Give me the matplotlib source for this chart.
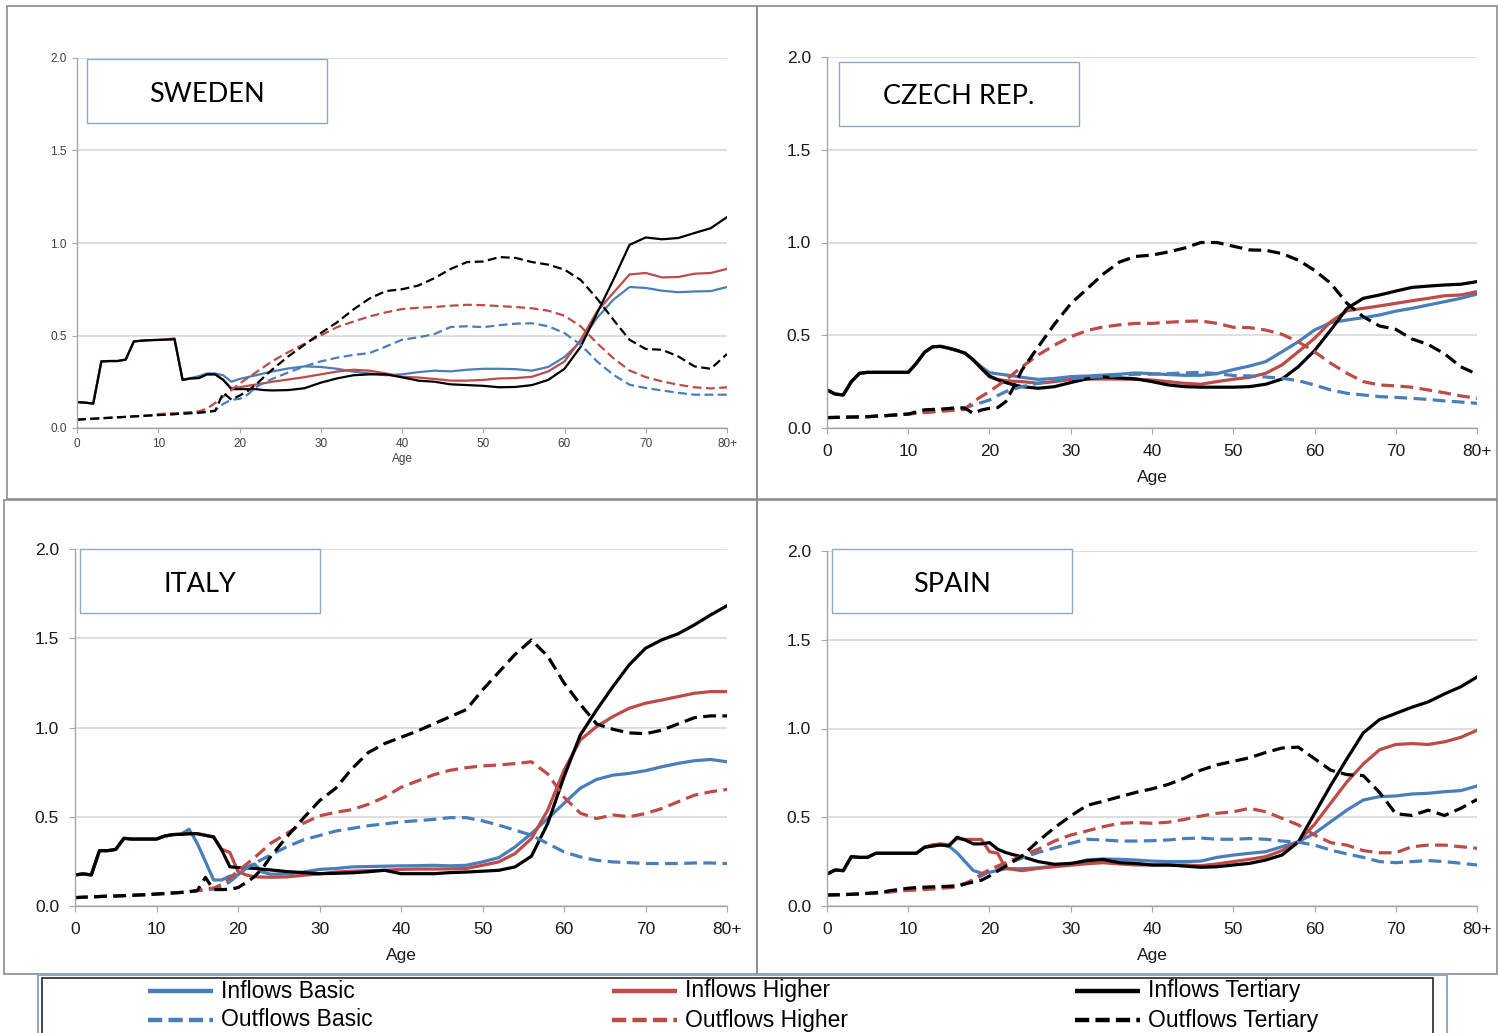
import matplotlib
matplotlib.use("Agg")
import matplotlib.pyplot as plt
from matplotlib.patches import Rectangle
from matplotlib.lines import Line2D

W, H = 1498, 1033

# ages: yearly up to 24, then every two years up to 80+
AGES = list(range(0, 25)) + list(range(26, 81, 2))
XTICKS = [0, 10, 20, 30, 40, 50, 60, 70, 80]
XTICK_LABELS = ["0", "10", "20", "30", "40", "50", "60", "70", "80+"]
YTICKS = [0.0, 0.5, 1.0, 1.5, 2.0]
LEGEND_LABELS = ["Inflows Basic", "Inflows Higher", "Inflows Tertiary",
                 "Outflows Basic", "Outflows Higher", "Outflows Tertiary"]

# ---- Sweden ----
SE_IN_BASIC = [0.14, 0.137, 0.132, 0.36, 0.362, 0.362, 0.37, 0.468, 0.472, 0.475, 0.476, 0.478, 0.48,
               0.26, 0.27, 0.28, 0.295, 0.295, 0.285, 0.25, 0.265, 0.275, 0.285, 0.295, 0.305,
               0.322, 0.333, 0.33, 0.32, 0.305, 0.295, 0.285, 0.29, 0.302, 0.31, 0.306, 0.315, 0.32, 0.32,
               0.318, 0.31, 0.33, 0.384, 0.468, 0.595, 0.693, 0.762, 0.757, 0.742, 0.734, 0.738, 0.74, 0.762]
SE_IN_HIGH = [0.14, 0.137, 0.132, 0.36, 0.362, 0.362, 0.37, 0.468, 0.472, 0.475, 0.476, 0.478, 0.485,
              0.26, 0.268, 0.27, 0.29, 0.29, 0.26, 0.215, 0.22, 0.228, 0.235, 0.242, 0.25,
              0.262, 0.275, 0.29, 0.305, 0.315, 0.31, 0.295, 0.277, 0.273, 0.265, 0.256, 0.256, 0.26, 0.268,
              0.27, 0.277, 0.306, 0.36, 0.477, 0.63, 0.73, 0.83, 0.838, 0.814, 0.816, 0.834, 0.838, 0.86]
SE_IN_TERT = [0.14, 0.137, 0.132, 0.36, 0.362, 0.362, 0.37, 0.468, 0.472, 0.475, 0.476, 0.478, 0.48,
              0.26, 0.268, 0.27, 0.29, 0.29, 0.26, 0.21, 0.21, 0.21, 0.21, 0.205, 0.203,
              0.205, 0.215, 0.245, 0.268, 0.285, 0.29, 0.29, 0.274, 0.256, 0.25, 0.236, 0.232, 0.228, 0.22,
              0.222, 0.232, 0.26, 0.32, 0.44, 0.62, 0.80, 0.99, 1.03, 1.02, 1.027, 1.054, 1.08, 1.14]
SE_OUT_BASIC = [0.045, 0.048, 0.05, 0.053, 0.055, 0.058, 0.06, 0.063, 0.065, 0.068, 0.07, 0.072, 0.075,
                0.078, 0.08, 0.083, 0.087, 0.095, 0.13, 0.153, 0.157, 0.18, 0.22, 0.245, 0.265,
                0.30, 0.333, 0.36, 0.38, 0.395, 0.405, 0.44, 0.477, 0.49, 0.508, 0.546, 0.55, 0.545, 0.556,
                0.564, 0.566, 0.55, 0.513, 0.45, 0.36, 0.288, 0.234, 0.216, 0.203, 0.19, 0.18, 0.18, 0.18]
SE_OUT_HIGH = [0.045, 0.048, 0.05, 0.053, 0.055, 0.058, 0.06, 0.063, 0.065, 0.068, 0.075, 0.078, 0.08,
               0.083, 0.086, 0.09, 0.105, 0.135, 0.17, 0.205, 0.24, 0.27, 0.30, 0.33, 0.36,
               0.41, 0.455, 0.5, 0.545, 0.575, 0.603, 0.625, 0.643, 0.65, 0.654, 0.661, 0.666, 0.664, 0.659,
               0.654, 0.647, 0.634, 0.607, 0.549, 0.459, 0.378, 0.311, 0.275, 0.252, 0.234, 0.22, 0.214, 0.22]
SE_OUT_TERT = [0.045, 0.048, 0.05, 0.053, 0.055, 0.058, 0.06, 0.063, 0.065, 0.068, 0.07, 0.072, 0.075,
               0.078, 0.08, 0.083, 0.087, 0.092, 0.19, 0.153, 0.175, 0.2, 0.234, 0.275, 0.315,
               0.387, 0.45, 0.513, 0.571, 0.64, 0.70, 0.74, 0.75, 0.77, 0.81, 0.86, 0.897, 0.90, 0.924,
               0.919, 0.897, 0.883, 0.856, 0.80, 0.70, 0.586, 0.477, 0.427, 0.423, 0.387, 0.333, 0.32, 0.40]

# ---- Czech Rep. ----
CZ_IN_BASIC = [0.205, 0.183, 0.178, 0.25, 0.295, 0.30, 0.30, 0.30, 0.30, 0.30, 0.30, 0.349, 0.408,
               0.438, 0.44, 0.43, 0.418, 0.403, 0.367, 0.33, 0.298, 0.292, 0.286, 0.28, 0.273,
               0.262, 0.267, 0.277, 0.28, 0.285, 0.29, 0.297, 0.293, 0.288, 0.284, 0.284, 0.293, 0.315, 0.334,
               0.358, 0.411, 0.465, 0.528, 0.568, 0.582, 0.595, 0.609, 0.63, 0.645, 0.663, 0.681, 0.699, 0.722]
CZ_IN_HIGH = [0.205, 0.183, 0.178, 0.25, 0.295, 0.30, 0.30, 0.30, 0.30, 0.30, 0.30, 0.349, 0.408,
              0.438, 0.44, 0.43, 0.418, 0.403, 0.367, 0.32, 0.275, 0.262, 0.255, 0.252, 0.25,
              0.241, 0.25, 0.262, 0.264, 0.264, 0.264, 0.262, 0.259, 0.25, 0.241, 0.236, 0.25, 0.263, 0.273,
              0.295, 0.34, 0.411, 0.483, 0.573, 0.632, 0.645, 0.658, 0.672, 0.686, 0.699, 0.713, 0.717, 0.735]
CZ_IN_TERT = [0.205, 0.183, 0.178, 0.25, 0.295, 0.30, 0.30, 0.30, 0.30, 0.30, 0.30, 0.349, 0.408,
              0.438, 0.44, 0.43, 0.418, 0.403, 0.367, 0.322, 0.28, 0.26, 0.245, 0.232, 0.223,
              0.214, 0.223, 0.245, 0.265, 0.275, 0.27, 0.265, 0.25, 0.232, 0.223, 0.22, 0.22, 0.22, 0.223,
              0.236, 0.264, 0.33, 0.417, 0.528, 0.645, 0.699, 0.717, 0.738, 0.758, 0.765, 0.771, 0.775, 0.789]
CZ_OUT_BASIC = [0.056, 0.057, 0.058, 0.059, 0.06, 0.061, 0.064, 0.066, 0.069, 0.072, 0.075, 0.08, 0.085,
                0.09, 0.095, 0.1, 0.105, 0.11, 0.123, 0.137, 0.151, 0.175, 0.196, 0.21, 0.223,
                0.241, 0.259, 0.267, 0.272, 0.277, 0.283, 0.29, 0.29, 0.293, 0.297, 0.3, 0.293, 0.283, 0.281,
                0.275, 0.268, 0.255, 0.232, 0.205, 0.187, 0.178, 0.169, 0.165, 0.16, 0.154, 0.146, 0.14, 0.133]
CZ_OUT_HIGH = [0.056, 0.057, 0.058, 0.059, 0.06, 0.061, 0.064, 0.066, 0.069, 0.072, 0.075, 0.08, 0.083,
               0.086, 0.09, 0.093, 0.097, 0.1, 0.142, 0.17, 0.196, 0.228, 0.259, 0.295, 0.33,
               0.394, 0.447, 0.492, 0.525, 0.545, 0.556, 0.564, 0.564, 0.57, 0.575, 0.577, 0.564, 0.543, 0.541,
               0.528, 0.505, 0.465, 0.411, 0.349, 0.295, 0.25, 0.232, 0.227, 0.22, 0.205, 0.19, 0.173, 0.16]
CZ_OUT_TERT = [0.056, 0.057, 0.058, 0.059, 0.06, 0.061, 0.064, 0.066, 0.069, 0.072, 0.075, 0.087, 0.098,
               0.10, 0.102, 0.105, 0.11, 0.106, 0.079, 0.097, 0.106, 0.11, 0.142, 0.223, 0.313,
               0.438, 0.56, 0.67, 0.75, 0.83, 0.895, 0.925, 0.932, 0.949, 0.97, 1.0, 1.0, 0.98, 0.96,
               0.958, 0.94, 0.905, 0.85, 0.78, 0.672, 0.60, 0.55, 0.532, 0.48, 0.45, 0.40, 0.33, 0.29]

# ---- Italy ----
IT_IN_BASIC = [0.174, 0.18, 0.174, 0.31, 0.31, 0.317, 0.379, 0.375, 0.375, 0.375, 0.375, 0.392, 0.40,
               0.402, 0.43, 0.351, 0.25, 0.146, 0.146, 0.168, 0.174, 0.215, 0.235, 0.19, 0.178,
               0.18, 0.19, 0.205, 0.21, 0.219, 0.221, 0.223, 0.225, 0.226, 0.228, 0.225, 0.228, 0.247, 0.271,
               0.331, 0.406, 0.49, 0.575, 0.66, 0.709, 0.733, 0.743, 0.758, 0.78, 0.799, 0.814, 0.821, 0.808]
IT_IN_HIGH = [0.174, 0.18, 0.174, 0.31, 0.31, 0.317, 0.379, 0.375, 0.375, 0.375, 0.375, 0.392, 0.40,
              0.402, 0.405, 0.405, 0.396, 0.387, 0.318, 0.30, 0.193, 0.174, 0.164, 0.162, 0.161,
              0.163, 0.172, 0.18, 0.19, 0.195, 0.198, 0.2, 0.205, 0.207, 0.207, 0.208, 0.21, 0.228, 0.247,
              0.294, 0.378, 0.537, 0.761, 0.93, 1.005, 1.061, 1.108, 1.136, 1.154, 1.173, 1.192, 1.201, 1.201]
IT_IN_TERT = [0.174, 0.18, 0.174, 0.31, 0.31, 0.317, 0.379, 0.375, 0.375, 0.375, 0.375, 0.392, 0.40,
              0.402, 0.405, 0.405, 0.396, 0.387, 0.314, 0.22, 0.215, 0.213, 0.211, 0.206, 0.202,
              0.193, 0.187, 0.181, 0.183, 0.186, 0.192, 0.2, 0.181, 0.181, 0.181, 0.187, 0.19, 0.195, 0.2,
              0.219, 0.279, 0.462, 0.724, 0.958, 1.098, 1.229, 1.351, 1.444, 1.491, 1.525, 1.575, 1.631, 1.682]
IT_OUT_BASIC = [0.047, 0.049, 0.051, 0.053, 0.055, 0.056, 0.058, 0.06, 0.062, 0.064, 0.067, 0.07, 0.073,
                0.076, 0.08, 0.086, 0.09, 0.095, 0.108, 0.136, 0.174, 0.211, 0.239, 0.262, 0.286,
                0.332, 0.37, 0.395, 0.42, 0.435, 0.45, 0.46, 0.471, 0.478, 0.485, 0.495, 0.495, 0.477, 0.453,
                0.425, 0.397, 0.35, 0.303, 0.275, 0.256, 0.247, 0.243, 0.238, 0.238, 0.238, 0.241, 0.241, 0.238]
IT_OUT_HIGH = [0.047, 0.049, 0.051, 0.053, 0.055, 0.056, 0.058, 0.06, 0.062, 0.064, 0.067, 0.07, 0.073,
               0.076, 0.08, 0.086, 0.095, 0.1, 0.121, 0.155, 0.196, 0.233, 0.27, 0.31, 0.351,
               0.407, 0.463, 0.505, 0.525, 0.54, 0.57, 0.61, 0.665, 0.70, 0.735, 0.76, 0.775, 0.785, 0.79,
               0.798, 0.808, 0.74, 0.61, 0.52, 0.49, 0.51, 0.50, 0.518, 0.546, 0.584, 0.621, 0.64, 0.653]
IT_OUT_TERT = [0.047, 0.049, 0.051, 0.053, 0.055, 0.056, 0.058, 0.06, 0.062, 0.064, 0.067, 0.07, 0.073,
               0.076, 0.08, 0.086, 0.16, 0.092, 0.092, 0.094, 0.103, 0.131, 0.164, 0.211, 0.276,
               0.388, 0.491, 0.59, 0.66, 0.77, 0.86, 0.91, 0.945, 0.98, 1.02, 1.06, 1.10, 1.21, 1.31,
               1.41, 1.49, 1.40, 1.25, 1.13, 1.02, 0.99, 0.97, 0.965, 0.985, 1.02, 1.055, 1.065, 1.065]

# ---- Spain ----
ES_IN_BASIC = [0.18, 0.203, 0.199, 0.278, 0.274, 0.274, 0.297, 0.297, 0.297, 0.297, 0.297, 0.297, 0.331,
               0.338, 0.344, 0.338, 0.30, 0.25, 0.20, 0.185, 0.19, 0.2, 0.21, 0.21, 0.21,
               0.215, 0.225, 0.235, 0.26, 0.265, 0.263, 0.259, 0.253, 0.25, 0.25, 0.253, 0.274, 0.287, 0.297,
               0.306, 0.334, 0.362, 0.409, 0.475, 0.541, 0.597, 0.616, 0.62, 0.631, 0.635, 0.644, 0.65, 0.676]
ES_IN_HIGH = [0.18, 0.203, 0.199, 0.278, 0.274, 0.274, 0.297, 0.297, 0.297, 0.297, 0.297, 0.297, 0.331,
              0.345, 0.35, 0.345, 0.38, 0.375, 0.375, 0.375, 0.306, 0.297, 0.212, 0.206, 0.199,
              0.212, 0.221, 0.23, 0.238, 0.244, 0.237, 0.231, 0.231, 0.231, 0.231, 0.227, 0.237, 0.25, 0.263,
              0.278, 0.312, 0.362, 0.46, 0.58, 0.70, 0.80, 0.88, 0.91, 0.915, 0.91, 0.925, 0.95, 0.99]
ES_IN_TERT = [0.18, 0.203, 0.199, 0.278, 0.274, 0.274, 0.297, 0.297, 0.297, 0.297, 0.297, 0.297, 0.331,
              0.338, 0.344, 0.338, 0.387, 0.372, 0.35, 0.35, 0.357, 0.32, 0.301, 0.288, 0.278,
              0.25, 0.235, 0.24, 0.255, 0.262, 0.244, 0.24, 0.231, 0.231, 0.225, 0.218, 0.221, 0.231, 0.24,
              0.259, 0.287, 0.36, 0.52, 0.68, 0.83, 0.975, 1.05, 1.085, 1.12, 1.15, 1.195, 1.235, 1.29]
ES_OUT_BASIC = [0.062, 0.063, 0.064, 0.066, 0.068, 0.071, 0.07, 0.075, 0.08, 0.085, 0.09, 0.095, 0.1,
                0.103, 0.106, 0.11, 0.115, 0.128, 0.145, 0.17, 0.195, 0.218, 0.236, 0.253, 0.27,
                0.302, 0.327, 0.353, 0.376, 0.372, 0.366, 0.366, 0.368, 0.372, 0.38, 0.383, 0.376, 0.376, 0.38,
                0.376, 0.366, 0.36, 0.343, 0.315, 0.293, 0.274, 0.25, 0.244, 0.25, 0.256, 0.25, 0.241, 0.231]
ES_OUT_HIGH = [0.062, 0.063, 0.064, 0.066, 0.068, 0.071, 0.075, 0.08, 0.082, 0.085, 0.088, 0.09, 0.093,
               0.096, 0.1, 0.103, 0.108, 0.125, 0.15, 0.178, 0.206, 0.225, 0.244, 0.263, 0.282,
               0.32, 0.366, 0.4, 0.423, 0.447, 0.466, 0.47, 0.466, 0.472, 0.488, 0.507, 0.522, 0.531, 0.55,
               0.531, 0.494, 0.457, 0.4, 0.357, 0.343, 0.312, 0.3, 0.3, 0.334, 0.343, 0.343, 0.334, 0.325]
ES_OUT_TERT = [0.062, 0.063, 0.064, 0.066, 0.068, 0.071, 0.075, 0.08, 0.088, 0.094, 0.1, 0.104, 0.106,
               0.108, 0.11, 0.111, 0.113, 0.124, 0.135, 0.145, 0.169, 0.197, 0.225, 0.254, 0.282,
               0.366, 0.441, 0.507, 0.567, 0.59, 0.615, 0.64, 0.66, 0.685, 0.72, 0.765, 0.795, 0.815, 0.835,
               0.865, 0.89, 0.895, 0.83, 0.765, 0.74, 0.735, 0.64, 0.52, 0.51, 0.54, 0.51, 0.55, 0.6]

BLUE = "#4a7ebb"
RED = "#be4b48"
BLACK = "#000000"
STYLES = [(BLUE, False), (RED, False), (BLACK, False),
          (BLUE, True), (RED, True), (BLACK, True)]

SANS = ["Liberation Sans", "DejaVu Sans"]


def px_rect(x0, y0, x1, y1):
    """Pixel box with top-left origin -> figure fraction (left, bottom, w, h)."""
    return (x0 / W, 1 - y1 / H, (x1 - x0) / W, (y1 - y0) / H)


def draw_panel(fig, name, axes_px, title_px, border_px, series, small):
    # outer panel frame
    bx = px_rect(*border_px)
    fig.add_artist(Rectangle(bx[:2], bx[2], bx[3], transform=fig.transFigure,
                             fill=False, edgecolor="#8c8c8c", lw=1.2, zorder=0))

    ax = fig.add_axes(px_rect(*axes_px))
    lw = 1.6 if small else 2.3
    for values, (color, dashed) in zip(series, STYLES):
        ax.plot(AGES, values, color=color, lw=lw,
                ls=(0, (4, 2)) if dashed else "-",
                solid_joinstyle="round", dash_capstyle="butt")

    ax.set_xlim(0, 80)
    ax.set_ylim(0, 2.0)
    ax.set_xticks(XTICKS)
    ax.set_yticks(YTICKS)
    ax.grid(axis="y", color="#d9d9d9", lw=1.2)
    ax.set_axisbelow(True)
    for side in ("top", "right"):
        ax.spines[side].set_visible(False)
    for side in ("left", "bottom"):
        ax.spines[side].set_color("#a6a6a6")
        ax.spines[side].set_linewidth(1.0)

    if small:
        fs, pad, tl, col = 8.5, 4, 3.5, "#404040"
        labelpad = 2
    else:
        fs, pad, tl, col = 12.5, 7, 4.5, "#1a1a1a"
        labelpad = 8
    ax.set_xticklabels(XTICK_LABELS, fontsize=fs, family=SANS, color=col)
    ax.set_yticklabels([f"{v:.1f}" for v in YTICKS], fontsize=fs, family=SANS, color=col)
    ax.tick_params(direction="out", length=tl, color="#a6a6a6", pad=pad)
    ax.set_xlabel("Age", fontsize=fs, family=SANS, color=col, labelpad=labelpad)

    # country label box
    tx = px_rect(*title_px)
    fig.add_artist(Rectangle(tx[:2], tx[2], tx[3], transform=fig.transFigure,
                             facecolor="white", edgecolor="#8ea9c8", lw=1.0, zorder=5))
    fig.text(tx[0] + tx[2] / 2, tx[1] + tx[3] / 2 - 3 / H, name, ha="center", va="center",
             fontsize=19.5, family=["Lato", "DejaVu Sans"], color="black", zorder=6)
    return ax


fig = plt.figure(figsize=(W / 100, H / 100), dpi=100)
fig.patch.set_facecolor("white")

draw_panel(fig, "SWEDEN", (77, 58, 727, 428), (87, 59, 327, 123), (7, 6, 757, 499),
           [SE_IN_BASIC, SE_IN_HIGH, SE_IN_TERT, SE_OUT_BASIC, SE_OUT_HIGH, SE_OUT_TERT], True)
draw_panel(fig, "CZECH REP.", (827, 57, 1477, 428), (839, 62, 1079, 126), (757, 6, 1497, 499),
           [CZ_IN_BASIC, CZ_IN_HIGH, CZ_IN_TERT, CZ_OUT_BASIC, CZ_OUT_HIGH, CZ_OUT_TERT], False)
draw_panel(fig, "ITALY", (75, 549, 727, 906), (80, 549, 320, 613), (4, 500, 757, 974),
           [IT_IN_BASIC, IT_IN_HIGH, IT_IN_TERT, IT_OUT_BASIC, IT_OUT_HIGH, IT_OUT_TERT], False)
draw_panel(fig, "SPAIN", (827, 551, 1477, 906), (832, 549, 1072, 613), (757, 500, 1497, 974),
           [ES_IN_BASIC, ES_IN_HIGH, ES_IN_TERT, ES_OUT_BASIC, ES_OUT_HIGH, ES_OUT_TERT], False)

# legend frame (outer light blue, inner dark), cut by the bottom edge
ob = px_rect(38, 975, 1447, 1045)
fig.add_artist(Rectangle(ob[:2], ob[2], ob[3], transform=fig.transFigure,
                         fill=False, edgecolor="#8eaacb", lw=1.5, zorder=1))
ib = px_rect(42, 978, 1433, 1045)
fig.add_artist(Rectangle(ib[:2], ib[2], ib[3], transform=fig.transFigure,
                         fill=False, edgecolor="#262626", lw=1.2, zorder=1))

col_x = [148, 612, 1075]
row_y = [991, 1020]
for i, label in enumerate(LEGEND_LABELS):
    color, dashed = STYLES[i]
    x0 = col_x[i % 3]
    y = 1 - row_y[i // 3] / H
    fig.add_artist(Line2D([x0 / W, (x0 + 65) / W], [y, y], transform=fig.transFigure,
                          color=color, lw=3.2, ls=(0, (3.2, 1.4)) if dashed else "-",
                          dash_capstyle="butt", solid_capstyle="butt"))
    fig.text((x0 + 73) / W, y, label, ha="left", va="center",
             fontsize=16.5, family=SANS, color="black")

fig.savefig("out.png", dpi=100, facecolor="white")
